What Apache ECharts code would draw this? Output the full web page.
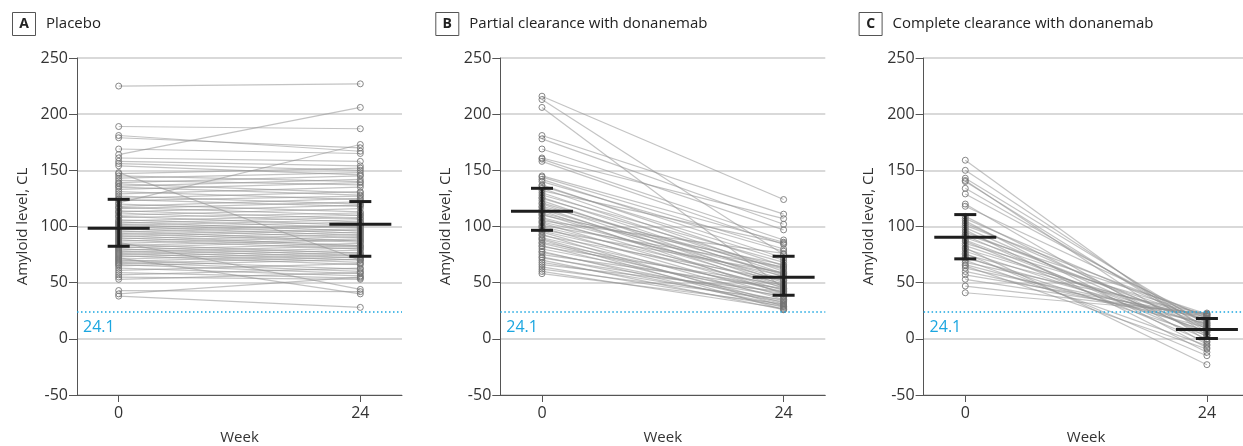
<!DOCTYPE html>
<html>
<head>
<meta charset="utf-8">
<script src="https://cdn.jsdelivr.net/npm/echarts@6/dist/echarts.min.js"></script>
<style>
html,body{margin:0;padding:0;background:#fff;}
#chart{width:1243px;height:446px;}
</style>
</head>
<body>
<div id="chart"></div>
<script>
// ---- data ----
const weeks = [0, 24];
const weekLabels = ['0', '24'];
const yTicks = [-50, 0, 50, 100, 150, 200, 250];
const threshold = 24.1;
const panelLetters = ['A', 'B', 'C'];
const panelTitles = ['Placebo', 'Partial clearance with donanemab', 'Complete clearance with donanemab'];

const placeboBaseline = [225,189,181,179,169,164,161,158,156,154,148,147,145,143,141,139,138,136,135,133,131,129,127,125,124,123,121,120,118,117,116,114,113,112,110,109,108,106,105,104,103,102,101,100,99,98,97,96,95,94,93,92,91,90,89,88,87,86,85,84,83,82,81,80,79,78,77,76,75,74,73,72,71,70,69,68,67,66,65,63,61,59,57,55,53,43,40,38];
const placeboWeek24 = [227,187,167,170,165,206,158,154,150,146,70,152,140,148,137,145,130,142,128,139,124,135,120,131,118,127,173,113,125,110,122,107,119,104,116,101,112,99,110,96,108,94,106,92,104,90,101,87,100,86,98,83,97,82,95,80,93,44,91,76,89,74,88,72,85,70,83,68,81,66,79,40,77,62,75,60,73,58,71,56,67,54,63,53,59,42,55,28];

const partialBaseline = [216,213,206,181,178,169,161,160,158,145,144,142,140,137,136,134,132,130,128,126,125,123,121,120,118,117,115,114,112,111,110,108,107,105,104,103,101,100,99,97,96,95,93,92,90,89,88,86,85,83,82,80,78,77,75,73,72,70,68,66,64,62,60,58];
const partialWeek24 = [124,75,45,111,102,97,107,88,84,86,80,72,78,65,70,60,85,58,68,55,63,50,57,48,62,45,53,40,58,47,66,52,43,76,56,41,64,49,38,59,46,35,29,52,42,32,26,44,37,31,48,40,28,34,45,30,38,26,33,42,29,35,27,31];

const completeBaseline = [159,150,143,141,140,134,129,120,118,109,107,105,103,101,99,97,95,93,92,90,88,87,85,83,81,80,78,76,75,73,72,70,68,66,65,63,60,57,53,47,41];
const completeWeek24 = [3,8,12,-2,6,10,14,-5,18,2,15,-8,9,20,4,-12,12,22,0,17,6,-3,21,11,-23,16,7,-15,19,3,13,-6,22,10,-9,18,14,21,20,22,23];

// summary bars per week: center, low, high
const placeboCenter = [98.4, 102];
const placeboLow = [82.4, 73.5];
const placeboHigh = [124.2, 122.2];
const partialCenter = [113.5, 54.8];
const partialLow = [96.6, 38.8];
const partialHigh = [134, 73.5];
const completeCenter = [90.4, 8.3];
const completeLow = [71.2, 0.3];
const completeHigh = [110.6, 18.1];

// ---- build ----
const FONT = 'Open Sans';
const panels = [
  {base: placeboBaseline, w24: placeboWeek24, c: placeboCenter, lo: placeboLow, hi: placeboHigh},
  {base: partialBaseline, w24: partialWeek24, c: partialCenter, lo: partialLow, hi: partialHigh},
  {base: completeBaseline, w24: completeWeek24, c: completeCenter, lo: completeLow, hi: completeHigh}
];
const PANEL_STEP = 423.3;
const grids = [], xAxes = [], yAxes = [], series = [], graphics = [];

panels.forEach((p, i) => {
  const ox = i * PANEL_STEP;
  grids.push({left: 77 + ox, top: 58, width: 325, height: 337, outerBoundsMode: 'none', containLabel: false});
  xAxes.push({
    type: 'value', gridIndex: i, min: -4.14, max: 28.14,
    axisLine: {show: true, onZero: false, lineStyle: {color: '#555', width: 1}},
    axisTick: {show: true, customValues: weeks, length: 7, lineStyle: {color: '#555'}},
    axisLabel: {customValues: weeks, formatter: v => weekLabels[weeks.indexOf(v)], fontSize: 16, color: '#333', margin: 10, fontFamily: FONT},
    splitLine: {show: false},
    name: 'Week', nameLocation: 'middle', nameGap: 35,
    nameTextStyle: {fontSize: 15, color: '#333', fontFamily: FONT}
  });
  yAxes.push({
    type: 'value', gridIndex: i, min: yTicks[0], max: yTicks[yTicks.length - 1], interval: 50,
    axisLine: {show: true, onZero: false, lineStyle: {color: '#555', width: 1}},
    axisTick: {show: true, length: 8, lineStyle: {color: '#555'}},
    axisLabel: {fontSize: 16, color: '#333', margin: 9, fontFamily: FONT},
    splitLine: {show: true, lineStyle: {color: '#d9d9d9', width: 2}},
    name: 'Amyloid level, CL', nameLocation: 'middle', nameGap: 47, nameRotate: 90,
    nameTextStyle: {fontSize: 15, color: '#333', fontFamily: FONT}
  });
  p.base.forEach((b, k) => {
    series.push({
      type: 'line', xAxisIndex: i, yAxisIndex: i, silent: true, animation: false,
      data: [[weeks[0], b], [weeks[1], p.w24[k]]],
      symbol: 'circle', symbolSize: 6, z: 2,
      lineStyle: {color: 'rgba(145,145,145,0.55)', width: 1.2},
      itemStyle: {color: 'rgba(255,255,255,0)', borderColor: 'rgba(115,115,115,0.85)', borderWidth: 1}
    });
  });
  series.push({
    type: 'custom', xAxisIndex: i, yAxisIndex: i, silent: true, animation: false, z: 10,
    data: weeks.map((w, k) => [w, p.c[k], p.lo[k], p.hi[k]]),
    renderItem: (params, api) => {
      const x = api.value(0);
      const pc = api.coord([x, api.value(1)]);
      const pl = api.coord([x, api.value(2)]);
      const ph = api.coord([x, api.value(3)]);
      const st = {stroke: '#1e1e1e', lineWidth: 3};
      return {type: 'group', children: [
        {type: 'line', shape: {x1: pl[0], y1: pl[1], x2: ph[0], y2: ph[1]}, style: st},
        {type: 'line', shape: {x1: pc[0] - 31, y1: pc[1], x2: pc[0] + 31, y2: pc[1]}, style: st},
        {type: 'line', shape: {x1: pl[0] - 11, y1: pl[1], x2: pl[0] + 11, y2: pl[1]}, style: st},
        {type: 'line', shape: {x1: ph[0] - 11, y1: ph[1], x2: ph[0] + 11, y2: ph[1]}, style: st}
      ]};
    },
    markLine: {
      silent: true, symbol: 'none', animation: false,
      data: [{yAxis: threshold}],
      lineStyle: {color: '#1ba6e0', type: [1.5, 2.5], width: 1.5},
      label: {position: 'insideStartBottom', formatter: String(threshold), color: '#1ba6e0', fontSize: 16, fontFamily: FONT, distance: [6, 8]}
    }
  });
  graphics.push({type: 'rect', shape: {x: 12.5 + ox, y: 12.5, width: 23, height: 23}, style: {fill: 'none', stroke: '#555', lineWidth: 1}});
  graphics.push({type: 'text', x: 24 + ox, y: 24, style: {text: panelLetters[i], font: 'bold 14px ' + FONT, fill: '#222', textAlign: 'center', textVerticalAlign: 'middle'}});
  graphics.push({type: 'text', x: 46 + ox, y: 24, style: {text: panelTitles[i], font: '15px ' + FONT, fill: '#222', textAlign: 'left', textVerticalAlign: 'middle'}});
});

const chart = echarts.init(document.getElementById('chart'), null, {renderer: 'canvas'});
chart.setOption({
  animation: false,
  backgroundColor: '#fff',
  textStyle: {fontFamily: FONT},
  grid: grids, xAxis: xAxes, yAxis: yAxes, series: series, graphic: graphics
});
</script>
</body>
</html>
